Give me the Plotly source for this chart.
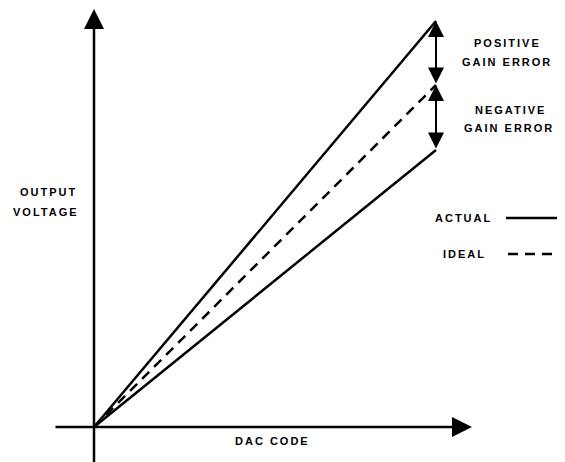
import plotly.graph_objects as go

# ---- data (normalized: full-scale code = 1, ideal full-scale output = 1) ----
dac_code = [0, 1]
ideal_output = [0, 1.0]
positive_gain_output = [0, 1.187]
negative_gain_output = [0, 0.81]

# ---- layout helpers (page pixel -> data; page has an 8px body margin) ----
PAGE_W, PAGE_H = 565, 462
MARGIN = 8
W, H = PAGE_W - MARGIN, PAGE_H - MARGIN
OX, OY, S = 94, 427, 342  # origin (page pixels) and pixels per unit


def px(xp):
    return (xp - OX) / S


def py(yp):
    return (OY - yp) / S


FONT = dict(family="Liberation Sans, Arial, sans-serif", size=11, color="black")


def label(text, xp, yp):
    return dict(
        x=px(xp), y=py(yp), xref="x", yref="y",
        text='<span style="letter-spacing:2px"><b>' + text + "</b></span>",
        showarrow=False, font=FONT, xanchor="center", yanchor="middle",
    )


fig = go.Figure()

fig.add_trace(go.Scatter(x=dac_code, y=positive_gain_output, mode="lines",
                         line=dict(color="black", width=2.5), hoverinfo="skip"))
fig.add_trace(go.Scatter(x=dac_code, y=negative_gain_output, mode="lines",
                         line=dict(color="black", width=2.5), hoverinfo="skip"))
fig.add_trace(go.Scatter(x=dac_code, y=ideal_output, mode="lines",
                         line=dict(color="black", width=2.5, dash="10px,7px"),
                         hoverinfo="skip"))

annotations = []
# axes with arrow heads
annotations.append(dict(x=px(472), y=0, ax=px(54), ay=0, xref="x", yref="y",
                        axref="x", ayref="y", showarrow=True, arrowhead=2,
                        arrowsize=1.6, arrowwidth=2.5, arrowcolor="black", text=""))
annotations.append(dict(x=0, y=py(9), ax=0, ay=py(470), xref="x", yref="y",
                        axref="x", ayref="y", showarrow=True, arrowhead=2,
                        arrowsize=1.6, arrowwidth=2.5, arrowcolor="black", text=""))
# gain error double arrows
fs = dac_code[-1]
for top, bottom in [(positive_gain_output[-1], ideal_output[-1]),
                    (ideal_output[-1], negative_gain_output[-1])]:
    annotations.append(dict(x=fs, y=top, ax=fs, ay=bottom, xref="x", yref="y",
                            axref="x", ayref="y", showarrow=True,
                            arrowhead=2, startarrowhead=2, arrowside="end+start",
                            arrowsize=1.6, startarrowsize=1.6, arrowwidth=2,
                            arrowcolor="black", text=""))

annotations += [
    label("POSITIVE", 507, 43),
    label("GAIN ERROR", 507, 62),
    label("NEGATIVE", 510, 110),
    label("GAIN ERROR", 509, 128),
    label("OUTPUT", 48, 192),
    label("VOLTAGE", 46, 212),
    label("ACTUAL", 463, 218),
    label("IDEAL", 464, 254),
    label("DAC CODE", 272, 441),
]

shapes = [
    dict(type="line", xref="x", yref="y", x0=px(506), x1=px(565), y0=py(218), y1=py(218),
         line=dict(color="black", width=2.5)),
    dict(type="line", xref="x", yref="y", x0=px(508), x1=px(565), y0=py(254), y1=py(254),
         line=dict(color="black", width=2.5, dash="10px,7px")),
]

fig.update_layout(
    width=W, height=H,
    margin=dict(l=0, r=0, t=0, b=0),
    paper_bgcolor="white", plot_bgcolor="white",
    showlegend=False,
    xaxis=dict(range=[px(MARGIN), px(PAGE_W)], visible=False, fixedrange=True),
    yaxis=dict(range=[py(PAGE_H), py(MARGIN)], visible=False, fixedrange=True),
    annotations=annotations,
    shapes=shapes,
)

fig.write_html("out.html", config={"displayModeBar": False})
